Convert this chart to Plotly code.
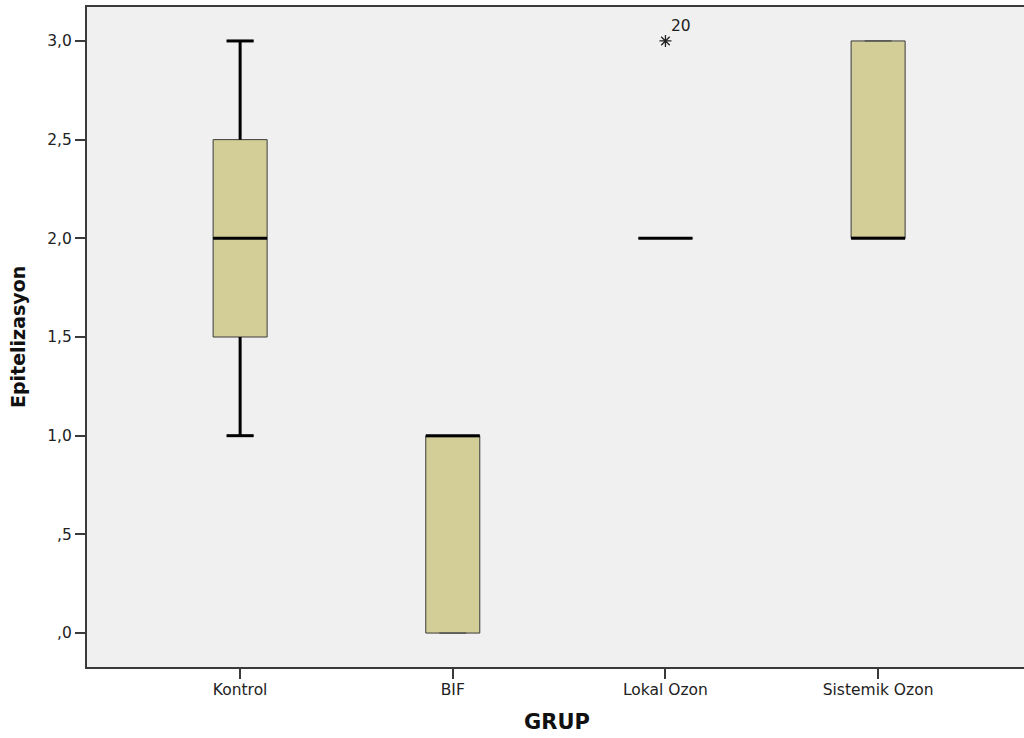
import plotly.graph_objects as go

groups = ["Kontrol", "BIF", "Lokal Ozon", "Sistemik Ozon"]
q1 = [1.5, 0.0, 2.0, 2.0]
median = [2.0, 1.0, 2.0, 2.0]
q3 = [2.5, 1.0, 2.0, 3.0]
lower = [1.0, 0.0, 2.0, 2.0]
upper = [3.0, 1.0, 2.0, 3.0]
outlier_group = "Lokal Ozon"
outlier_value = 3.0
outlier_label = "20"
y_tickvals = [0.0, 0.5, 1.0, 1.5, 2.0, 2.5, 3.0]
y_ticktext = [",0", ",5", "1,0", "1,5", "2,0", "2,5", "3,0"]

pos = list(range(len(groups)))
BW = 0.254
CAP = BW * 0.5
FONT = "DejaVu Sans, Verdana, sans-serif"

fig = go.Figure()
fig.add_trace(go.Box(
    x=pos, q1=q1, median=median, q3=q3, lowerfence=lower, upperfence=upper,
    width=BW, whiskerwidth=0.5, boxpoints=False,
    fillcolor="#D3CE97", line=dict(color="#3a3a3a", width=1),
    hoverinfo="skip", showlegend=False))

# thick whiskers and caps
wx, wy = [], []
for p, a, b, lo, hi in zip(pos, q1, q3, lower, upper):
    if hi > b:
        wx += [p, p, None, p - CAP / 2, p + CAP / 2, None]
        wy += [b, hi, None, hi, hi, None]
    if lo < a:
        wx += [p, p, None, p - CAP / 2, p + CAP / 2, None]
        wy += [a, lo, None, lo, lo, None]
fig.add_trace(go.Scatter(x=wx, y=wy, mode="lines", line=dict(color="black", width=3),
                         hoverinfo="skip", showlegend=False))

# thick medians
mx, my = [], []
for p, m in zip(pos, median):
    mx += [p - BW / 2, p + BW / 2, None]
    my += [m, m, None]
fig.add_trace(go.Scatter(x=mx, y=my, mode="lines", line=dict(color="black", width=3),
                         hoverinfo="skip", showlegend=False))

# outlier
ox = groups.index(outlier_group)
fig.add_trace(go.Scatter(x=[ox], y=[outlier_value], mode="markers",
                         marker=dict(symbol="asterisk-open", size=10, color="#222",
                                     line=dict(color="#222", width=1.3)),
                         hoverinfo="skip", showlegend=False))
fig.add_annotation(x=ox, y=outlier_value, text=outlier_label, showarrow=False,
                   xshift=16, yshift=15, font=dict(family=FONT, size=15.5, color="#222"))

fig.update_layout(
    width=1024, height=738,
    margin=dict(l=87, r=0, t=7, b=71),
    paper_bgcolor="white", plot_bgcolor="#F0F0F0",
    font=dict(family=FONT, size=15.5, color="#222"),
    xaxis=dict(range=[-0.72, 3.686], tickvals=pos, ticktext=groups,
               showgrid=False, zeroline=False, showline=True, linecolor="#3a3a3a",
               linewidth=2, mirror=True, ticks="outside", ticklen=10, tickwidth=1.5,
               tickcolor="#3a3a3a", tickfont=dict(size=15.5), ticklabelstandoff=-3),
    yaxis=dict(range=[-0.172, 3.172], tickvals=y_tickvals, ticktext=y_ticktext,
               showgrid=False, zeroline=False, showline=True, linecolor="#3a3a3a",
               linewidth=2, ticks="outside", ticklen=10, tickwidth=2,
               tickcolor="#3a3a3a", tickfont=dict(size=15.5)),
)
fig.add_annotation(xref="paper", yref="paper", x=(557 - 87) / 937, y=-(722 - 667) / 660,
                   text="<b>GRUP</b>", showarrow=False,
                   font=dict(family=FONT, size=21, color="#111"),
                   xanchor="center", yanchor="middle")
fig.add_annotation(xref="paper", yref="paper", x=-(87 - 18) / 937, y=(667 - 337) / 660,
                   text="<b>Epitelizasyon</b>", showarrow=False, textangle=-90,
                   font=dict(family=FONT, size=19, color="#111"),
                   xanchor="center", yanchor="middle")

fig.write_html("out.html", config={"displayModeBar": False},
               post_script="document.body.style.margin='0px';document.body.style.overflow='hidden';")
